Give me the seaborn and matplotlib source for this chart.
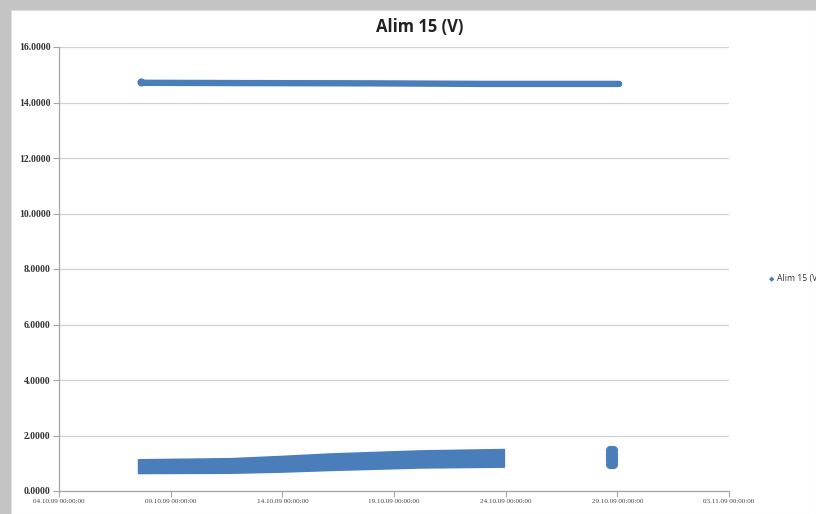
import matplotlib
matplotlib.use("Agg")
import matplotlib.pyplot as plt
import matplotlib.dates as mdates
from matplotlib.patches import Rectangle
import numpy as np
import pandas as pd
import seaborn as sns

# Alim 15 (V) supply voltage log
title = "Alim 15 (V)"
series_name = "Alim 15 (V)"

# Nominal supply level (read at a few instants along the trace)
upper_times = ["2009-10-07 16:00", "2009-10-07 18:00", "2009-10-12 00:00",
               "2009-10-18 00:00", "2009-10-23 00:00", "2009-10-29 02:00"]
upper_vals = [14.74, 14.71, 14.70, 14.69, 14.67, 14.67]

# Low-level readings: envelope of the dense cloud
band_times = ["2009-10-07 13:00", "2009-10-11 16:00", "2009-10-13 22:00",
              "2009-10-16 03:00", "2009-10-20 04:00", "2009-10-23 22:00"]
band_low = [0.65, 0.66, 0.70, 0.76, 0.85, 0.88]
band_high = [1.14, 1.18, 1.26, 1.35, 1.46, 1.51]

# Short burst of low readings on 28.10
burst_times = ["2009-10-28 16:00", "2009-10-28 16:00", "2009-10-28 16:00",
               "2009-10-28 16:00", "2009-10-28 16:00",
               "2009-10-28 19:30", "2009-10-28 19:30", "2009-10-28 19:30",
               "2009-10-28 19:30", "2009-10-28 19:30"]
burst_vals = [0.99, 1.11, 1.23, 1.35, 1.47,
              0.99, 1.11, 1.23, 1.35, 1.47]

tick_dates = ["2009-10-04", "2009-10-09", "2009-10-14", "2009-10-19",
              "2009-10-24", "2009-10-29", "2009-11-03"]
y_ticks = [0, 2, 4, 6, 8, 10, 12, 14, 16]

blue = "#4A7EBB"

sns.set_theme(style="white")
fig = plt.figure(figsize=(8.16, 5.14), dpi=100, facecolor="#c4c4c4")
# white chart area framed by the slide background
fig.patches.append(Rectangle((11 / 816, 0), 1 - 11 / 816, 1 - 10 / 514,
                             transform=fig.transFigure, facecolor="white",
                             edgecolor="#dddddd", linewidth=0.8, zorder=-10))

ax = fig.add_axes([59 / 816, 1 - 491 / 514, (729 - 59) / 816, (491 - 47) / 514])
ax.set_zorder(1)
ax.patch.set_alpha(0)

upper = pd.DataFrame({"t": pd.to_datetime(upper_times), "v": upper_vals})
band = pd.DataFrame({"t": pd.to_datetime(band_times), "lo": band_low, "hi": band_high})
burst = pd.DataFrame({"t": pd.to_datetime(burst_times), "v": burst_vals})

sns.lineplot(data=upper, x="t", y="v", ax=ax, color=blue, linewidth=4.6,
             solid_capstyle="round", legend=False, zorder=3)
ax.scatter(upper["t"].iloc[:1], upper["v"].iloc[:1], s=34, color=blue,
           linewidths=0, zorder=4)
ax.fill_between(band["t"], band["lo"], band["hi"], color=blue, linewidth=1.2,
                edgecolor=blue, zorder=3)
sns.scatterplot(data=burst, x="t", y="v", ax=ax, color=blue, s=44,
                linewidth=0, legend=False, zorder=3)

ax.set_xlim(pd.Timestamp("2009-10-04"), pd.Timestamp("2009-11-03"))
ax.set_ylim(0, 16)
ax.set_yticks(y_ticks)
ax.set_yticklabels([f"{v:.4f}" for v in y_ticks], family="Liberation Serif",
                   fontsize=7, color="#333333", fontweight="bold")
ax.set_xticks(pd.to_datetime(tick_dates))
ax.xaxis.set_major_formatter(mdates.DateFormatter("%d.%m.%y %H:%M:%S"))
for lab in ax.get_xticklabels():
    lab.set_family("Liberation Serif")
    lab.set_fontsize(5.1)
    lab.set_color("#444444")

ax.grid(axis="y", color="#d2d2d2", linewidth=0.9)
ax.grid(axis="x", visible=False)
for side in ["top", "right"]:
    ax.spines[side].set_visible(False)
for side in ["left", "bottom"]:
    ax.spines[side].set_color("#a6a6a6")
    ax.spines[side].set_linewidth(0.9)
ax.tick_params(axis="both", which="major", direction="out", length=4,
               width=0.8, color="#a6a6a6", pad=2, left=True, bottom=True)
ax.set_xlabel("")
ax.set_ylabel("")

fig.text(420 / 816, 1 - 27 / 514, title, ha="center", va="center",
         fontsize=12, fontweight="bold", family="Open Sans", color="#222222")

# legend entry sitting at the right edge of the chart area
fig.text(772 / 816, 1 - 279 / 514, "\u25c6", ha="center", va="center",
         fontsize=5, color=blue)
fig.text(777 / 816, 1 - 279 / 514, series_name, ha="left", va="center",
         fontsize=6.2, family="Open Sans", color="#333333")

fig.savefig("out.png", dpi=100, facecolor=fig.get_facecolor())
